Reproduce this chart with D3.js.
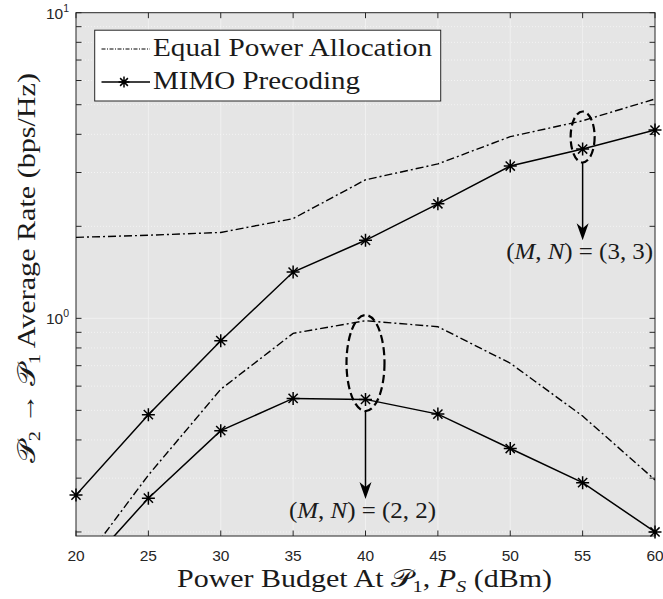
<!DOCTYPE html>
<html>
<head>
<meta charset="utf-8">
<script src="https://cdn.jsdelivr.net/npm/d3@7"></script>
<style>
  body { margin: 0; background: #fff; }
  svg { display: block; }
  .tick-label { font-family: 'Liberation Sans', Arial, sans-serif; font-size: 15.5px; fill: #262626; }
  .serif { font-family: 'Liberation Serif', 'Times New Roman', serif; fill: #1a1a1a; }
</style>
</head>
<body>
<svg width="663" height="599"></svg>
<script>
// power budget (dBm)
const power = [20, 25, 30, 35, 40, 45, 50, 55, 60]

// average rate (bps/Hz)
const equal33 = [1.84, 1.87, 1.91, 2.12, 2.84, 3.20, 3.93, 4.43, 5.22]
const mimo33 = [0.264, 0.484, 0.845, 1.417, 1.80, 2.37, 3.15, 3.58, 4.13]
const equal22 = [0.148, 0.307, 0.586, 0.893, 0.982, 0.939, 0.713, 0.479, 0.296]
const mimo22 = [0.141, 0.258, 0.429, 0.547, 0.543, 0.486, 0.375, 0.290, 0.200]

const xTicks = [20, 25, 30, 35, 40, 45, 50, 55, 60]
const yMajor = [1, 10]
const yMinor = [0.2, 0.3, 0.4, 0.5, 0.6, 0.7, 0.8, 0.9, 2, 3, 4, 5, 6, 7, 8, 9]

// annotation anchors: x, centre of ellipse, arrow tip (data units)
const notes = [
  { x: 55, yc: 3.92, tip: 1.80, m: 3 },
  { x: 40, yc: 0.714, tip: 0.2564, m: 2 }
]

const svg = d3.select('svg')
const pL = 76, pR = 655, pT = 12.7, pB = 536

const x = d3.scaleLinear().domain([20, 60]).range([pL, pR])
const y = d3.scaleLog().domain([0.194, 10]).range([pB, pT])

svg.append('defs').append('clipPath').attr('id', 'plot')
  .append('rect').attr('x', pL).attr('y', pT)
  .attr('width', pR - pL).attr('height', pB - pT)

svg.append('rect')
  .attr('x', pL).attr('y', pT)
  .attr('width', pR - pL).attr('height', pB - pT)
  .attr('fill', '#e5e5e5')

// grid
const grid = svg.append('g')
grid.selectAll('.vg').data(xTicks.slice(1, -1)).enter().append('line')
  .attr('x1', d => x(d)).attr('x2', d => x(d))
  .attr('y1', pT).attr('y2', pB)
  .attr('stroke', '#f2f2f2').attr('stroke-width', 0.8)
grid.selectAll('.mg').data(yMinor).enter().append('line')
  .attr('x1', pL).attr('x2', pR)
  .attr('y1', d => y(d)).attr('y2', d => y(d))
  .attr('stroke', '#f7f7f7').attr('stroke-width', 0.8)
  .attr('stroke-dasharray', '1,2')
grid.selectAll('.hg').data([1]).enter().append('line')
  .attr('x1', pL).attr('x2', pR)
  .attr('y1', d => y(d)).attr('y2', d => y(d))
  .attr('stroke', '#f2f2f2').attr('stroke-width', 0.8)

// ticks (inward, both sides)
const tl = 5.5
const ticks = svg.append('g').attr('stroke', '#262626').attr('stroke-width', 1)
xTicks.forEach(t => {
  ticks.append('line').attr('x1', x(t)).attr('x2', x(t)).attr('y1', pB).attr('y2', pB - tl)
  ticks.append('line').attr('x1', x(t)).attr('x2', x(t)).attr('y1', pT).attr('y2', pT + tl)
})
yMajor.concat(yMinor).forEach(t => {
  ticks.append('line').attr('x1', pL).attr('x2', pL + tl).attr('y1', y(t)).attr('y2', y(t))
  ticks.append('line').attr('x1', pR).attr('x2', pR - tl).attr('y1', y(t)).attr('y2', y(t))
})

svg.append('rect')
  .attr('x', pL).attr('y', pT)
  .attr('width', pR - pL).attr('height', pB - pT)
  .attr('fill', 'none').attr('stroke', '#262626').attr('stroke-width', 1)

// tick labels
svg.selectAll('.xl').data(xTicks).enter().append('text')
  .attr('class', 'tick-label')
  .attr('x', d => x(d)).attr('y', pB + 25)
  .attr('text-anchor', 'middle')
  .text(d => d)

yMajor.forEach(t => {
  const lab = svg.append('text').attr('class', 'tick-label')
    .attr('x', pL - 7).attr('y', y(t) + 6).attr('text-anchor', 'end')
  lab.append('tspan').text('10')
  lab.append('tspan').attr('dy', -7).attr('font-size', 10.5).text(Math.round(Math.log10(t)))
})

// series
const line = d3.line().x((d, i) => x(power[i])).y(d => y(d))
const plot = svg.append('g').attr('clip-path', 'url(#plot)')
const dashDot = '8,3,2,3'

;[equal33, equal22].forEach(s => {
  plot.append('path').datum(s).attr('d', line)
    .attr('fill', 'none').attr('stroke', '#000').attr('stroke-width', 1.4)
    .attr('stroke-dasharray', dashDot)
})
;[mimo33, mimo22].forEach(s => {
  plot.append('path').datum(s).attr('d', line)
    .attr('fill', 'none').attr('stroke', '#000').attr('stroke-width', 1.5)
})

const star = (g, cx, cy, r) => {
  const d = r * 0.7071
  g.append('path')
    .attr('d', `M${cx - r},${cy}H${cx + r}M${cx},${cy - r}V${cy + r}` +
      `M${cx - d},${cy - d}L${cx + d},${cy + d}M${cx - d},${cy + d}L${cx + d},${cy - d}`)
    .attr('stroke', '#000').attr('stroke-width', 1.5).attr('fill', 'none')
}
const marks = svg.append('g')
;[mimo33, mimo22].forEach(s => {
  s.forEach((v, i) => {
    if (v >= y.domain()[0]) star(marks, x(power[i]), y(v), 6.5)
  })
})

// annotations
notes.forEach(n => {
  const cx = x(n.x), cy = y(n.yc)
  const ry = n.m === 3 ? 25.5 : 48, rx = n.m === 3 ? 12 : 19
  svg.append('ellipse').attr('cx', cx).attr('cy', cy).attr('rx', rx).attr('ry', ry)
    .attr('fill', 'none').attr('stroke', '#000').attr('stroke-width', 2.2)
    .attr('stroke-dasharray', '8,4')
  const tip = y(n.tip)
  svg.append('line').attr('x1', cx).attr('x2', cx).attr('y1', cy + ry).attr('y2', tip - 8)
    .attr('stroke', '#000').attr('stroke-width', 1.5)
  svg.append('path')
    .attr('d', `M${cx},${tip}L${cx - 6},${tip - 17}L${cx},${tip - 12}L${cx + 6},${tip - 17}Z`)
    .attr('fill', '#000')
  const t = svg.append('text').attr('class', 'serif').attr('font-size', 23)
    .attr('x', cx - 3).attr('y', tip + 19).attr('text-anchor', 'middle')
    .attr('textLength', 147).attr('lengthAdjust', 'spacingAndGlyphs')
  t.append('tspan').text('(')
  t.append('tspan').attr('font-style', 'italic').text('M')
  t.append('tspan').text(', ')
  t.append('tspan').attr('font-style', 'italic').text('N')
  t.append('tspan').text(`) = (${n.m}, ${n.m})`)
})

// legend
const lg = svg.append('g')
lg.append('rect').attr('x', 94.7).attr('y', 30.2).attr('width', 346).attr('height', 70.8)
  .attr('fill', '#fff').attr('stroke', '#262626').attr('stroke-width', 1)
lg.append('line').attr('x1', 101.5).attr('x2', 150).attr('y1', 49).attr('y2', 49)
  .attr('stroke', '#000').attr('stroke-width', 1).attr('stroke-dasharray', '4,1.5,1,1.5')
lg.append('line').attr('x1', 101.5).attr('x2', 150).attr('y1', 82).attr('y2', 82)
  .attr('stroke', '#000').attr('stroke-width', 1.5)
star(lg, 124, 82, 5.5)
lg.append('text').attr('class', 'serif').attr('font-size', 26)
  .attr('x', 153).attr('y', 56).attr('textLength', 279).attr('lengthAdjust', 'spacingAndGlyphs')
  .text('Equal Power Allocation')
lg.append('text').attr('class', 'serif').attr('font-size', 26)
  .attr('x', 153).attr('y', 88.5).attr('textLength', 207).attr('lengthAdjust', 'spacingAndGlyphs')
  .text('MIMO Precoding')

// axis labels
const xl = svg.append('text').attr('class', 'serif').attr('font-size', 25)
  .attr('x', 177).attr('y', 587)
  .attr('textLength', 375).attr('lengthAdjust', 'spacingAndGlyphs')
xl.append('tspan').text('Power Budget At ')
xl.append('tspan').text('𝒫')
xl.append('tspan').attr('font-size', 17).attr('dy', 5).text('1')
xl.append('tspan').attr('dy', -5).text(', ')
xl.append('tspan').attr('font-style', 'italic').text('P')
xl.append('tspan').attr('font-size', 17).attr('font-style', 'italic').attr('dy', 5).text('S')
xl.append('tspan').attr('dy', -5).text(' (dBm)')

const yl = svg.append('text').attr('class', 'serif').attr('font-size', 25)
  .attr('transform', 'translate(35,463) rotate(-90)')
  .attr('textLength', 390).attr('lengthAdjust', 'spacingAndGlyphs')
yl.append('tspan').text('𝒫')
yl.append('tspan').attr('font-size', 17).attr('dy', 5).text('2')
yl.append('tspan').attr('dy', -5).text(' → ')
yl.append('tspan').text('𝒫')
yl.append('tspan').attr('font-size', 17).attr('dy', 5).text('1')
yl.append('tspan').attr('dy', -5).text(' Average Rate (bps/Hz)')
</script>
</body>
</html>
